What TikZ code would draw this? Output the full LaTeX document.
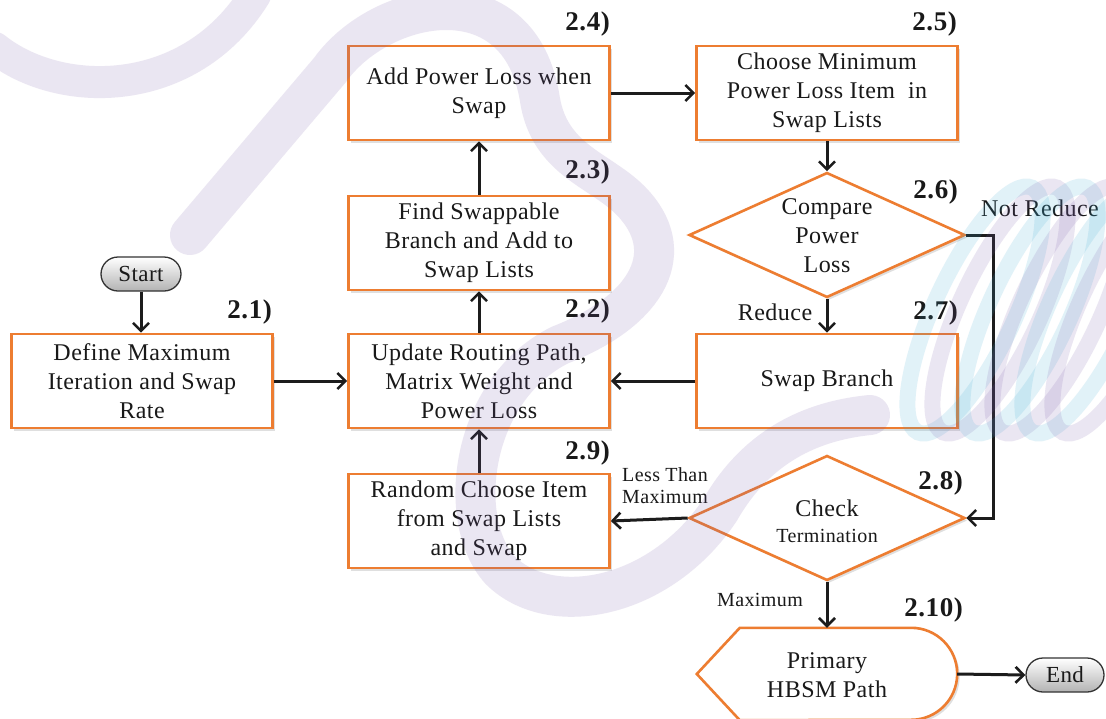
\documentclass[tikz,border=0pt]{standalone}
\usepackage{fontspec}
\setmainfont{Liberation Serif}[LetterSpace=2]
\usetikzlibrary{arrows.meta,shapes.geometric,shapes.misc,shadows,calc}
\definecolor{boxorange}{RGB}{237,125,49}
\definecolor{linedark}{RGB}{28,28,28}
\definecolor{markpurple}{RGB}{120,90,170}
\definecolor{markcyan}{RGB}{60,170,210}
\begin{document}
\begin{tikzpicture}[x=1pt,y=-1pt,
  every node/.style={font=\fontsize{24}{29}\selectfont, text=black!90},
  softshadow/.style={drop shadow={opacity=0.25, shadow xshift=2.5pt, shadow yshift=-2.5pt}},
  stepbox/.style={draw=boxorange, line width=2.6pt, fill=white, minimum width=261pt,
    minimum height=94pt, align=center, inner sep=0pt, softshadow},
  decision/.style={diamond, draw=boxorange, line width=2.6pt, fill=white,
    minimum width=276pt, minimum height=125pt, inner sep=0pt, softshadow},
  terminal/.style={rounded rectangle, draw=black!80, line width=1.3pt, top color=white,
    bottom color=black!30, minimum height=34pt, inner sep=0pt,
    font=\fontsize{23}{27}\selectfont},
  steplabel/.style={font=\bfseries\fontsize{27}{30}\selectfont, anchor=east, inner sep=0pt},
  smalllabel/.style={font=\fontsize{20}{22}\selectfont, align=center, inner sep=0pt},
  flow/.style={draw=linedark, line width=3pt,
    -{Straight Barb[length=8pt,width=16pt,line width=2.6pt]}},
]
\useasboundingbox (0,0) rectangle (1106,718);
\fill[white] (0,0) rectangle (1106,718);

% terminals
\node[terminal, minimum width=80pt] (start) at (141,274) {Start};
\node[terminal, minimum width=78pt] (end) at (1065,675) {End};

% process steps
\node[stepbox] (s1) at (142,381) {Define Maximum\\Iteration and Swap\\Rate};
\node[stepbox] (s2) at (479,381) {Update Routing Path,\\Matrix Weight and\\Power Loss};
\node[stepbox] (s3) at (479,243) {Find Swappable\\Branch and Add to\\Swap Lists};
\node[stepbox] (s4) at (479,93) {Add Power Loss when\\Swap};
\node[stepbox] (s5) at (827,93) {Choose Minimum\\Power Loss Item~ in\\Swap Lists};
\node[stepbox] (s7) at (827,381) {Swap Branch};
\node[stepbox] (s9) at (479,521) {Random Choose Item\\from Swap Lists\\and Swap};

% decisions
\node[decision] (d6) at (827,235) {};
\node[align=center, inner sep=0pt] (d6t) at (827,236) {Compare\\Power\\Loss};
\node[decision] (d8) at (827,518) {};
\node[inner sep=0pt] (d8t) at (827,508) {Check};
\node[smalllabel] (d8u) at (827,536) {Termination};

% display shape
\node[minimum width=260pt, minimum height=92pt, inner sep=0pt] (s10) at (827,674) {};
\draw[draw=boxorange, line width=2.6pt, fill=white, softshadow]
  (s10.west) -- ($(s10.north west)+(43,0)$) -- ($(s10.north east)+(-46,0)$)
  arc[start angle=-90, end angle=90, radius=46]
  -- ($(s10.south west)+(43,0)$) -- cycle;
\node[align=center, inner sep=0pt] (s10t) at (827,675) {Primary\\HBSM Path};

% step numbers
\node[steplabel] (l1) at (272,312) {2.1)};
\node[steplabel] (l2) at (610,311) {2.2)};
\node[steplabel] (l3) at (610,172) {2.3)};
\node[steplabel] (l4) at (610,24) {2.4)};
\node[steplabel] (l5) at (957,24) {2.5)};
\node[steplabel] (l6) at (958,192) {2.6)};
\node[steplabel] (l7) at (958,313) {2.7)};
\node[steplabel] (l8) at (963,483) {2.8)};
\node[steplabel] (l9) at (610,453) {2.9)};
\node[steplabel] (l10) at (963,610) {2.10)};

% branch labels
\node[inner sep=0pt] (notred) at (1040,208) {Not Reduce};
\node[inner sep=0pt] (red) at (775,312) {Reduce};
\node[smalllabel] (less) at (665,486) {Less Than\\Maximum};
\node[smalllabel] (maxi) at (760,600) {Maximum};

% connectors
\draw[flow] (start.south) -- (start.south |- s1.north);
\draw[flow] (s1.east) -- (s2.west);
\draw[flow] (s2.north) -- (s3.south);
\draw[flow] (s3.north) -- (s4.south);
\draw[flow] (s4.east) -- (s5.west);
\draw[flow] (s5.south) -- (d6.north);
\draw[flow] (d6.south) -- (s7.north);
\draw[flow] (s7.west) -- (s2.east);
\draw[flow] (d6.east) -- ++(27,0) |- (d8.east);
\draw[flow] (d8.west) -- (s9.east);
\draw[flow] (s9.north) -- (s2.south);
\draw[flow] (d8.south) -- (s10.north);
\draw[flow] (s10.east) -- (end.west);

% background logo mark
\begin{scope}[opacity=0.15, line cap=round]
  \draw[markpurple, line width=32pt] (-5,48) .. controls (60,100) and (190,100) .. (255,-5);
  \draw[markpurple, line width=40pt]
    (190,235) -- (330,70) .. controls (380,0) and (520,-30) .. (540,100)
    .. controls (550,160) and (600,170) .. (630,200)
    .. controls (680,250) and (650,310) .. (560,345)
    .. controls (470,390) and (455,520) .. (500,570)
    .. controls (550,620) and (660,600) .. (720,510)
    .. controls (760,440) and (820,420) .. (870,415);
\end{scope}
\begin{scope}[opacity=0.15]
  \foreach \cx/\col in {975/markcyan, 1000/markpurple, 1030/markcyan,
                        1060/markpurple, 1090/markcyan, 1120/markpurple}
    \draw[\col, line width=16pt, rotate around={-25:(\cx,310)}]
      (\cx,310) ellipse [x radius=40, y radius=135];
\end{scope}
\end{tikzpicture}
\end{document}
